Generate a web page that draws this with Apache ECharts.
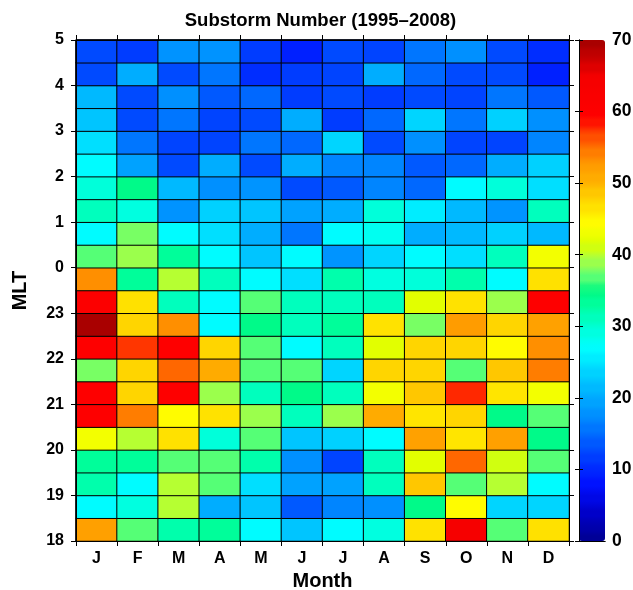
<!DOCTYPE html>
<html>
<head>
<meta charset="utf-8">
<script src="https://cdn.jsdelivr.net/npm/echarts@6/dist/echarts.min.js"></script>
<style>
html,body{margin:0;padding:0;background:#fff;}
#chart{width:633px;height:590px;}
</style>
</head>
<body>
<div id="chart"></div>
<script>
// Month categories (x axis)
const months = ['J','F','M','A','M','J','J','A','S','O','N','D'];
// MLT half-hour bins, bottom (18:00) to top (4:30)
const mltBins = ['18','18.5','19','19.5','20','20.5','21','21.5','22','22.5','23','23.5',
                 '0','0.5','1','1.5','2','2.5','3','3.5','4','4.5'];
// Y tick labels (hour boundaries)
const mltTicks = [18,19,20,21,22,23,0,1,2,3,4,5];
// Substorm counts per month, listed from MLT 18:00 upward to 4:30
const janCounts = [52,27,32,33.5,43,60,60,37.5,60,69.5,61,53,36.5,27,31,29.5,26.5,24.5,22.5,21,12.5,13];
const febCounts = [36.5,29,27,33.5,40,54,48,48,57.5,48,47,33,39,37.5,29,34,19,15.5,12.5,12.5,20.5,11];
const marCounts = [32.5,40,40,36.5,47,44,60,55.5,60,53,31.5,40,33.5,27,18,21,12.5,12,16,17.5,12.5,18];
const aprCounts = [33.5,20.5,36.5,36.5,29.5,46.5,39,50.5,48,27,27,31,27,24.5,23,17.5,20,12,12,14,15.5,18];
const mayCounts = [27,22.5,25,32.5,36.5,39,31,36.5,36.5,34,36.5,27,22.5,20,22.5,18.5,13,15.5,13,15,10,11.5];
const junCounts = [22.5,14,19,17.5,22,31,34.5,36.5,27,31.5,31,24.5,26.5,16,19,13,20.5,15,20,11,11.5,9];
const julCounts = [27,17,19,12,23,39,31,24,31,33.5,31,32,18.5,27,20,14,17,24,11.5,13,12,13];
const augCounts = [29,17.5,31.5,31,27,50.5,43,48,42,46.5,31,29,24,27.5,29.5,17,17,13,15,11,20.5,12];
const sepCounts = [46.5,34,49,42,51.5,46,49,48,48,37.5,42,29.5,27,20,26,15,14,17.5,24,13,15,15.5];
const octCounts = [64,44,36.5,55,46,48,58,36.5,48,52.5,46.5,32.5,25,21,21,27,15,12,16,12,13,17.5];
const novCounts = [36.5,24,40,41,52,34,46,49,44,48,39,27,31.5,23,18.5,29.5,20,12,23,15.5,13,13];
const decCounts = [47,24,27,36.5,34,36.5,43,54.5,53.5,51.5,60,47,43,21,31,25,23,17,17.5,14,9.5,10.5];
// Colour bar range
const cbMin = 0, cbMax = 70, cbStep = 10;

const monthly = [janCounts,febCounts,marCounts,aprCounts,mayCounts,junCounts,
                 julCounts,augCounts,sepCounts,octCounts,novCounts,decCounts];
const heatData = [];
monthly.forEach((col, i) => col.forEach((v, j) => heatData.push([i, j, v])));

// jet-like colour map as it appears in the figure
const cmapStops = [
 [0,'#00008f'],[4,'#0000cc'],[8,'#0010ff'],[10,'#0028ff'],[13,'#0050ff'],[16,'#0078ff'],
 [19,'#00a0ff'],[22,'#00c0ff'],[25,'#00e4ff'],[27,'#00ffff'],[30,'#00ffd0'],[33,'#00ffa0'],
 [35,'#00f880'],[36.5,'#50ff78'],[38,'#80ff60'],[39,'#a0ff48'],[40,'#b8ff30'],[41,'#d0ff10'],
 [42,'#e0ff00'],[43,'#f0ff00'],[44,'#ffff00'],[46,'#ffe800'],[48,'#ffd000'],[50,'#ffb400'],
 [52,'#ffa000'],[54,'#ff8000'],[56,'#ff5800'],[58,'#ff2800'],[59,'#ff0000'],[65,'#f40000'],
 [67,'#d00000'],[70,'#a00000']
];
function hex2rgb(h){return [parseInt(h.substr(1,2),16),parseInt(h.substr(3,2),16),parseInt(h.substr(5,2),16)];}
function cmapAt(v){
  for(let k=0;k<cmapStops.length-1;k++){
    const a=cmapStops[k], b=cmapStops[k+1];
    if(v>=a[0] && v<=b[0]){
      const t=(v-a[0])/(b[0]-a[0]); const ca=hex2rgb(a[1]), cb=hex2rgb(b[1]);
      return 'rgb('+ca.map((c,n)=>Math.round(c+(cb[n]-c)*t)).join(',')+')';
    }
  }
  return cmapStops[cmapStops.length-1][1];
}
// 64 discrete levels, each repeated so the gradient looks stepped
const nLevels = 64, rep = 8;
const cmapColors = [];
for(let k=0;k<nLevels;k++){
  const c = cmapAt(cbMin + (cbMax-cbMin)*(k+0.5)/nLevels);
  for(let r=0;r<rep;r++) cmapColors.push(c);
}

const FONT = 'Liberation Sans';
const tickLabel = {fontFamily:FONT, fontWeight:'bold', fontSize:16, color:'#000'};
const blackLine = {show:true, lineStyle:{color:'#000', width:1}};

const chart = echarts.init(document.getElementById('chart'), null, {renderer:'canvas'});
chart.setOption({
  animation:false,
  backgroundColor:'#fff',
  graphic:[{
    type:'text', x:320.5, y:21, z:100,
    style:{text:'Substorm Number (1995\u20132008)', fill:'#000', font:'bold 18.5px "Liberation Sans"',
           textAlign:'center', textVerticalAlign:'middle'}
  }],
  grid:[
    {left:76, top:40, width:493, height:501, show:true, borderColor:'#000', borderWidth:1,
     backgroundColor:'transparent', containLabel:false, outerBoundsMode:'none'},
    {left:579, top:40, width:26, height:501, show:false, containLabel:false, outerBoundsMode:'none'}
  ],
  xAxis:[
    {type:'category', gridIndex:0, data:months, position:'bottom', axisLine:blackLine,
     axisTick:{show:true, inside:false, length:5, lineStyle:{color:'#000'}},
     axisLabel:Object.assign({margin:10}, tickLabel),
     name:'Month', nameLocation:'middle', nameGap:30,
     nameTextStyle:{fontFamily:FONT, fontWeight:'bold', fontSize:20, color:'#000'},
     splitLine:{show:false}, z:10},
    {type:'category', gridIndex:0, data:months, position:'top', axisLine:blackLine,
     axisTick:{show:true, inside:false, length:5, lineStyle:{color:'#000'}},
     axisLabel:{show:false}, splitLine:{show:false}, z:10},
    {type:'value', gridIndex:1, min:0, max:1, position:'bottom', axisLine:blackLine,
     axisTick:{show:false}, axisLabel:{show:false}, splitLine:{show:false}, z:10},
    {type:'value', gridIndex:1, min:0, max:1, position:'top', axisLine:blackLine,
     axisTick:{show:false}, axisLabel:{show:false}, splitLine:{show:false}, z:10}
  ],
  yAxis:[
    {type:'category', gridIndex:0, data:mltBins, show:false},
    {type:'value', gridIndex:0, min:18, max:29, interval:1, position:'left', axisLine:blackLine,
     axisTick:{show:true, inside:false, length:5, lineStyle:{color:'#000'}},
     axisLabel:Object.assign({margin:12, formatter:function(v){return String(mltTicks[Math.round(v)-18]);}}, tickLabel),
     name:'MLT', nameLocation:'middle', nameGap:46, nameRotate:90,
     nameTextStyle:{fontFamily:FONT, fontWeight:'bold', fontSize:20, color:'#000'},
     splitLine:{show:false}, z:10},
    {type:'value', gridIndex:0, min:18, max:29, interval:1, position:'right', axisLine:blackLine,
     axisTick:{show:true, inside:false, length:5, lineStyle:{color:'#000'}},
     axisLabel:{show:false}, splitLine:{show:false}, z:10},
    {type:'value', gridIndex:1, min:cbMin, max:cbMax, interval:cbStep, position:'right', axisLine:blackLine,
     axisTick:{show:true, inside:true, length:4, lineStyle:{color:'#000'}},
     axisLabel:Object.assign({margin:7}, tickLabel, {fontSize:17.5}), splitLine:{show:false}, z:10},
    {type:'value', gridIndex:1, min:cbMin, max:cbMax, interval:cbStep, position:'left', axisLine:blackLine,
     axisTick:{show:true, inside:true, length:4, lineStyle:{color:'#000'}},
     axisLabel:{show:false}, splitLine:{show:false}, z:10}
  ],
  visualMap:{
    type:'continuous', min:cbMin, max:cbMax, seriesIndex:0, calculable:false, hoverLink:false,
    left:579, top:40, itemWidth:26, itemHeight:501, padding:0, text:null, showLabel:false,
    inRange:{color:cmapColors}, orient:'vertical'
  },
  series:[{
    type:'heatmap', xAxisIndex:0, yAxisIndex:0, data:heatData,
    itemStyle:{borderColor:'#000', borderWidth:1},
    emphasis:{disabled:true}
  }]
});
</script>
</body>
</html>
